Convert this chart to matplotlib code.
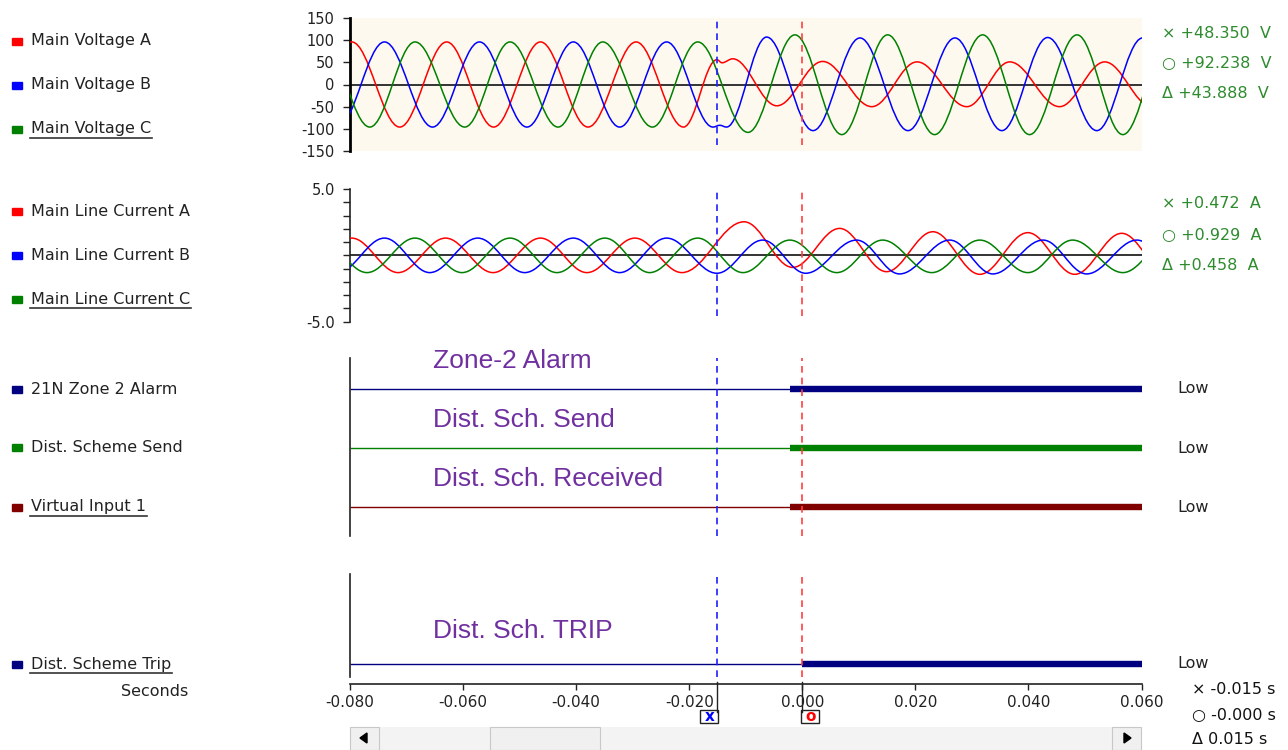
import matplotlib
matplotlib.use("Agg")
import matplotlib.pyplot as plt
from matplotlib.path import Path
from matplotlib.patches import PathPatch, Rectangle, Polygon

plt.rcParams['font.family'] = ['DejaVu Sans']
plt.rcParams['axes.unicode_minus'] = False

# ------------------------------
# 1. Data (extrema of each phase, time in s)
# ------------------------------
t_va = [-0.0880, -0.0797, -0.0712, -0.0629, -0.0546, -0.0463, -0.0379, -0.0294, -0.0210,
        -0.0151, -0.0142, -0.0123, -0.0045, 0.0036, 0.0123, 0.0203, 0.0291, 0.0367, 0.0455, 0.0535, 0.0618]
v_va = [-96, 96, -96, 96, -96, 96, -96, 96, -96, 56, 49, 58, -48, 52, -50, 51, -50, 51, -50, 51, -50]

t_vb = [-0.0822, -0.0739, -0.0654, -0.0571, -0.0487, -0.0405, -0.0323, -0.0240, -0.0158,
        -0.0146, -0.0134, -0.0063, 0.0019, 0.0102, 0.0187, 0.0270, 0.0353, 0.0434, 0.0521, 0.0602]
v_vb = [-96, 96, -96, 96, -96, 96, -96, 96, -96, -92, -96, 107, -104, 105, -104, 105, -104, 106, -104, 105]

t_vc = [-0.0848, -0.0765, -0.0685, -0.0597, -0.0517, -0.0432, -0.0353, -0.0265, -0.0185,
        -0.0096, -0.0013, 0.0070, 0.0151, 0.0234, 0.0319, 0.0402, 0.0486, 0.0567, 0.0650]
v_vc = [96, -96, 96, -96, 96, -96, 96, -96, 96, -108, 112, -113, 112, -113, 112, -113, 112, -113, 112]

t_ia = [-0.0880, -0.0797, -0.0715, -0.0631, -0.0547, -0.0463, -0.0381, -0.0296, -0.0213,
        -0.0103, -0.0017, 0.0066, 0.0149, 0.0231, 0.0314, 0.0399, 0.0482, 0.0565, 0.0647]
i_ia = [-1.3, 1.3, -1.3, 1.3, -1.3, 1.3, -1.3, 1.3, -1.3, 2.53, -0.91, 2.03, -1.23, 1.78, -1.43, 1.71, -1.43, 1.66, -1.43]

t_ib = [-0.0822, -0.0739, -0.0659, -0.0574, -0.0491, -0.0405, -0.0323, -0.0240, -0.0151,
        -0.0070, 0.0006, 0.0096, 0.0172, 0.0261, 0.0337, 0.0426, 0.0503, 0.0592, 0.0671]
i_ib = [-1.3, 1.3, -1.3, 1.3, -1.3, 1.3, -1.3, 1.3, -1.35, 1.15, -1.35, 1.15, -1.4, 1.15, -1.4, 1.15, -1.4, 1.15, -1.4]

t_ic = [-0.0854, -0.0770, -0.0685, -0.0602, -0.0517, -0.0434, -0.0349, -0.0270, -0.0185,
        -0.0105, -0.0022, 0.0061, 0.0142, 0.0229, 0.0314, 0.0399, 0.0478, 0.0567, 0.0650]
i_ic = [1.3, -1.3, 1.3, -1.3, 1.3, -1.3, 1.3, -1.3, 1.3, -1.3, 1.15, -1.3, 1.15, -1.3, 1.15, -1.3, 1.15, -1.3, 1.15]

# digital channels (go high at the given time)
dig_names = ['21N Zone 2 Alarm', 'Dist. Scheme Send', 'Virtual Input 1']
dig_colors = ['#000080', '#008000', '#800000']
dig_on = [-0.0022, -0.0022, -0.0022]
dig_notes = ['Zone-2 Alarm', 'Dist. Sch. Send', 'Dist. Sch. Received']
trip_name = 'Dist. Scheme Trip'
trip_on = 0.000
trip_note = 'Dist. Sch. TRIP'

# cursors and readouts
cursor_x = -0.015
cursor_o = 0.000
volt_read = ['+48.350', '+92.238', '+43.888']
amp_read = ['+0.472', '+0.929', '+0.458']
time_read = ['-0.015', '-0.000', '0.015']
x_ticks = [-0.08, -0.06, -0.04, -0.02, 0.0, 0.02, 0.04, 0.06]

# ------------------------------
# 2. Figure and panels (pixel layout)
# ------------------------------
W, H = 1288, 750
fig = plt.figure(figsize=(W / 100, H / 100), dpi=100)


def rect(x0, y0, x1, y1):
    return [x0 / W, 1 - y1 / H, (x1 - x0) / W, (y1 - y0) / H]


ax_v = fig.add_axes(rect(350, 18, 1141.5, 151))
ax_i = fig.add_axes(rect(350, 189, 1141.5, 321.7))
ax_d1 = fig.add_axes(rect(350, 358, 1141.5, 536))
ax_d2 = fig.add_axes(rect(350, 574, 1141.5, 677))

for ax, lo in [(ax_v, 0.045), (ax_i, 0.043), (ax_d1, 0.0), (ax_d2, 0.0)]:
    ax.set_xlim(-0.08, 0.06)
    for s in ['top', 'right', 'bottom']:
        ax.spines[s].set_visible(False)
    ax.spines['left'].set_color('#222222')
    ax.spines['left'].set_linewidth(1.2)
    ax.set_xticks([])
    ax.tick_params(axis='y', direction='out', length=5, width=1.0, pad=6, labelsize=10.5, colors='#222222')
    ax.axvline(cursor_x, ymin=lo, color='#1f1fff', ls=(0, (4, 3)), lw=1.2, zorder=4)
    ax.axvline(cursor_o, ymin=lo, color='#ff4040', ls=(0, (4, 3)), lw=1.2, zorder=4)


def wave(ax, ts, vs, color):
    # smooth half-waves between extrema, drawn as cubic bezier segments
    k = 0.363
    verts = [(ts[0], vs[0])]
    codes = [Path.MOVETO]
    for a in range(len(ts) - 1):
        dt = ts[a + 1] - ts[a]
        verts += [(ts[a] + k * dt, vs[a]), (ts[a + 1] - k * dt, vs[a + 1]), (ts[a + 1], vs[a + 1])]
        codes += [Path.CURVE4] * 3
    ax.add_patch(PathPatch(Path(verts, codes), fill=False, edgecolor=color, lw=1.1, zorder=3))


# voltage panel
ax_v.set_facecolor('#fef9ee')
ax_v.spines['left'].set_linewidth(2.0)
ax_v.spines['left'].set_color('black')
ax_v.set_ylim(-150, 150)
ax_v.set_yticks([150, 100, 50, 0, -50, -100, -150])
ax_v.axhline(0, color='#333333', lw=1.4, zorder=2)
wave(ax_v, t_va, v_va, '#ff0000')
wave(ax_v, t_vb, v_vb, '#0000ff')
wave(ax_v, t_vc, v_vc, '#008000')

# current panel
ax_i.set_ylim(-5, 5)
ax_i.set_yticks(list(range(5, -6, -1)))
ax_i.set_yticklabels(['5.0'] + [''] * 9 + ['-5.0'])
ax_i.axhline(0, color='#333333', lw=1.4, zorder=2)
wave(ax_i, t_ia, i_ia, '#ff0000')
wave(ax_i, t_ib, i_ib, '#0000ff')
wave(ax_i, t_ic, i_ic, '#008000')

# digital panel 1
ax_d1.set_ylim(2.49, -0.525)
ax_d1.set_yticks([])
for row, (on, c) in enumerate(zip(dig_on, dig_colors)):
    ax_d1.hlines(row, -0.08, on, color=c, lw=1.0, zorder=2)
    ax_d1.hlines(row, on, 0.06, color=c, lw=4.6, zorder=2)
    ax_d1.text(1.045, row, 'Low', transform=ax_d1.get_yaxis_transform(), va='center', fontsize=11.5, color='#222222')
    ax_d1.text(0.105, row - 0.47, dig_notes[row], transform=ax_d1.get_yaxis_transform(), va='center',
               fontsize=19, color='#7030a0', family='Liberation Sans')

# digital panel 2 (trip) with the time axis
ax_d2.set_ylim(-0.22, 1.5)
ax_d2.set_yticks([])
ax_d2.hlines(0, -0.08, trip_on, color='#000080', lw=1.0, zorder=2)
ax_d2.hlines(0, trip_on, 0.06, color='#000080', lw=4.6, zorder=2)
ax_d2.text(1.045, 0, 'Low', transform=ax_d2.get_yaxis_transform(), va='center', fontsize=11.5, color='#222222')
ax_d2.text(0.105, 0.55, trip_note, transform=ax_d2.get_yaxis_transform(), va='center',
           fontsize=19, color='#7030a0', family='Liberation Sans')
ax_d2.spines['bottom'].set_visible(True)
ax_d2.spines['bottom'].set_position(('outward', 5))
ax_d2.spines['bottom'].set_color('#222222')
ax_d2.spines['bottom'].set_linewidth(1.2)
ax_d2.set_xticks(x_ticks)
ax_d2.set_xticklabels(['%.3f' % v for v in x_ticks])
ax_d2.tick_params(axis='x', direction='out', length=4, width=1.0, pad=4, labelsize=11, colors='#222222')

# ------------------------------
# 3. Overlay in pixel coordinates: labels, readouts, scrollbar
# ------------------------------
ax_o = fig.add_axes([0, 0, 1, 1], zorder=10)
ax_o.set_xlim(0, W)
ax_o.set_ylim(H, 0)
ax_o.axis('off')

legend_names = ['Main Voltage A', 'Main Voltage B', 'Main Voltage C',
                'Main Line Current A', 'Main Line Current B', 'Main Line Current C'] + dig_names + [trip_name]
legend_colors = ['#ff0000', '#0000ff', '#008000', '#ff0000', '#0000ff', '#008000'] + dig_colors + ['#000080']
legend_y = [41, 85, 129, 211, 255, 299, 389, 447, 507, 664]
underlined = [2, 5, 8, 9]

fig.canvas.draw()
renderer = fig.canvas.get_renderer()
for n, (name, c, y) in enumerate(zip(legend_names, legend_colors, legend_y)):
    ax_o.add_patch(Rectangle((12, y - 3.5), 10, 7, color=c))
    t = ax_o.text(31, y, name, va='center', fontsize=11.5, color='#222222')
    if n in underlined:
        bb = t.get_window_extent(renderer)
        ax_o.plot([30, bb.x1 + 1], [y + 9, y + 9], color='#333333', lw=1.2)

ax_o.text(155, 692, 'Seconds', ha='center', va='center', fontsize=11.5, color='#222222')

marks = ['\u00d7', '\u25cb', '\u0394']
for n, (val, y) in enumerate(zip(volt_read, [33, 63, 93])):
    ax_o.text(1162, y, marks[n] + ' ' + val + '  V', va='center', fontsize=11.5, color='#2e8b2e')
for n, (val, y) in enumerate(zip(amp_read, [203, 235, 266])):
    ax_o.text(1162, y, marks[n] + ' ' + val + '  A', va='center', fontsize=11.5, color='#2e8b2e')
for n, (val, y) in enumerate(zip(time_read, [690, 716, 739])):
    ax_o.text(1192, y, marks[n] + ' ' + val + ' s', va='center', fontsize=11.5, color='#111111')

# cursor tags under the time axis
for tc, side, sym, c in [(cursor_x, -1, 'x', '#0000ff'), (cursor_o, 1, 'o', '#ff0000')]:
    px = ax_d2.transData.transform((tc, 0))[0]
    ax_o.plot([px, px], [682, 712], color='#222222', lw=1.0)
    bx = px - 17 if side < 0 else px - 1
    ax_o.add_patch(Rectangle((bx, 710), 18, 13, fc='white', ec='#222222', lw=1.0))
    ax_o.text(bx + 9, 716.5, sym, ha='center', va='center', fontsize=11, fontweight='bold', color=c)

# scrollbar
ax_o.add_patch(Rectangle((350, 727), 791.5, 23, fc='#f3f3f3', ec='none'))
ax_o.add_patch(Rectangle((350, 727), 29, 23, fc='#f0f0f0', ec='#c8c8c8', lw=0.8))
ax_o.add_patch(Rectangle((1112, 727), 29, 23, fc='#f0f0f0', ec='#c8c8c8', lw=0.8))
ax_o.add_patch(Rectangle((490, 727), 110, 23, fc='#f0f0f0', ec='#c8c8c8', lw=0.8))
ax_o.add_patch(Polygon([(360, 738), (367, 733), (367, 743)], color='black'))
ax_o.add_patch(Polygon([(1131, 738), (1124, 733), (1124, 743)], color='black'))

fig.savefig('out.png', dpi=100)
